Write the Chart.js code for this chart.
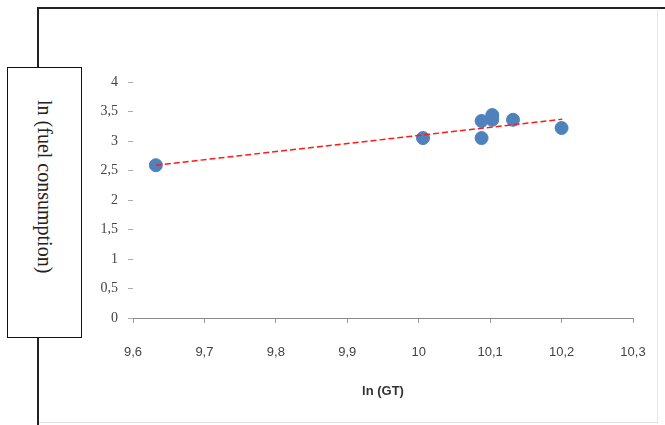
<!DOCTYPE html>
<html>
<head>
<meta charset="utf-8">
<script src="https://cdn.jsdelivr.net/npm/chart.js@4/dist/chart.umd.min.js"></script>
<style>
  html, body { margin: 0; padding: 0; background: #fff; }
  #wrap { position: relative; width: 665px; height: 425px; overflow: hidden; }
  #chart { position: absolute; left: 0; top: 0; }
  .line { position: absolute; }
  #ylabel {
    position: absolute; left: 7px; top: 67px; width: 75px; height: 271px;
    border: 1.5px solid #111; background: #fff; box-sizing: border-box;
    display: flex; align-items: center; justify-content: center;
  }
  #ylabel span {
    writing-mode: vertical-rl;
    font-family: "Liberation Serif", serif; font-size: 20px; color: #222;
    margin-top: -32px;
  }
</style>
</head>
<body>
<div id="wrap">
  <canvas id="chart" width="665" height="425"></canvas>
  <div class="line" style="left:37px;top:7px;width:628px;height:2px;background:#222"></div>
  <div class="line" style="left:37px;top:7px;width:2px;height:418px;background:#222"></div>
  <div class="line" style="left:657px;top:10px;width:1px;height:413px;background:#e6e6e6"></div>
  <div class="line" style="left:39px;top:422px;width:619px;height:1px;background:#e0e0e0"></div>
  <div id="ylabel"><span>ln (fuel consumption)</span></div>
</div>
<script>
// ln(GT) vs ln(fuel consumption)
const lnGT = [9.632, 10.006, 10.088, 10.088, 10.103, 10.103, 10.132, 10.200];
const lnFuel = [2.59, 3.05, 3.05, 3.34, 3.44, 3.36, 3.36, 3.22];

// trend line end points
const trendX = [9.632, 10.201];
const trendY = [2.59, 3.37];

const xTickLabels = ['9,6', '9,7', '9,8', '9,9', '10', '10,1', '10,2', '10,3'];
const yTickLabels = ['0', '0,5', '1', '1,5', '2', '2,5', '3', '3,5', '4'];

const ctx = document.getElementById('chart').getContext('2d');
new Chart(ctx, {
  type: 'scatter',
  data: {
    datasets: [
      {
        type: 'line',
        data: trendX.map((x, i) => ({ x: x, y: trendY[i] })),
        borderColor: '#ff1a1a',
        borderWidth: 1.5,
        borderDash: [6, 3],
        pointRadius: 0,
        fill: false,
        order: 0,
      },
      {
        data: lnGT.map((x, i) => ({ x: x, y: lnFuel[i] })),
        backgroundColor: '#4f81bd',
        borderColor: '#4f81bd',
        pointRadius: 6.5,
        order: 1,
      },
    ],
  },
  options: {
    responsive: false,
    animation: false,
    events: [],
    layout: { padding: { left: 0, top: 82, right: 32, bottom: 0 } },
    plugins: { legend: { display: false }, tooltip: { enabled: false } },
    scales: {
      x: {
        type: 'linear',
        min: 9.6,
        max: 10.3,
        afterFit: (scale) => {
          scale.height = 107;
          scale.paddingLeft = 0;
          scale.paddingRight = 0;
        },
        ticks: {
          stepSize: 0.1,
          padding: 22,
          color: '#444',
          font: { family: 'Liberation Sans', size: 13 },
          callback: (v, i) => xTickLabels[i],
        },
        grid: { drawOnChartArea: false, tickLength: 5, color: '#999' },
        border: { display: true, color: '#888' },
        title: {
          display: true,
          text: 'ln (GT)',
          color: '#333',
          font: { family: 'Liberation Sans', size: 13, weight: 'bold' },
          padding: { top: 4, bottom: 26 },
        },
      },
      y: {
        min: 0,
        max: 4,
        afterFit: (scale) => { scale.width = 133; },
        ticks: {
          stepSize: 0.5,
          padding: 10,
          color: '#444',
          font: { family: 'Liberation Serif', size: 14 },
          callback: (v, i) => yTickLabels[i],
        },
        grid: { drawOnChartArea: false, tickLength: 5, color: '#aaa' },
        border: { display: false },
      },
    },
  },
});
</script>
</body>
</html>
